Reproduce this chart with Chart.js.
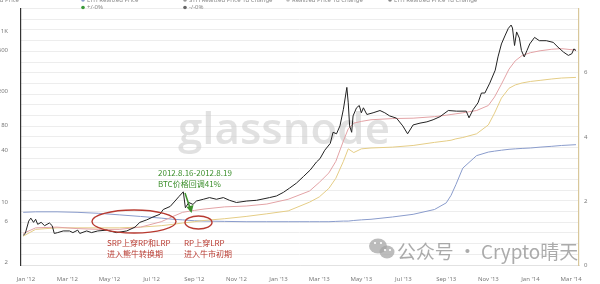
<!DOCTYPE html>
<html>
<head>
<meta charset="utf-8">
<script src="https://cdn.jsdelivr.net/npm/chart.js@4.4.1/dist/chart.umd.min.js"></script>
<style>
  html, body { margin: 0; padding: 0; background: #fff; }
  #wrap { width: 600px; height: 284px; position: relative; }
</style>
</head>
<body>
<div id="wrap"><canvas id="chart" width="600" height="284"></canvas></div>
<script>
// --- Data ---
const priceDates = [
  '2011-12-28','2011-12-31','2012-01-05','2012-01-08','2012-01-12','2012-01-15','2012-01-18','2012-01-23',
  '2012-01-28','2012-02-04','2012-02-08','2012-02-11','2012-02-16','2012-02-24','2012-03-04','2012-03-09',
  '2012-03-16','2012-03-19','2012-03-29','2012-04-05','2012-04-14','2012-04-27','2012-05-11','2012-05-26',
  '2012-06-07','2012-06-14','2012-06-24','2012-07-03','2012-07-13','2012-07-18','2012-07-28','2012-08-04',
  '2012-08-10','2012-08-16','2012-08-19','2012-08-24','2012-08-30','2012-09-04','2012-09-14','2012-09-23',
  '2012-10-03','2012-10-13','2012-10-22','2012-11-01','2012-11-16','2012-11-30','2012-12-19','2012-12-29',
  '2013-01-08','2013-01-17','2013-01-27','2013-02-06','2013-02-16','2013-02-25','2013-03-02','2013-03-09',
  '2013-03-17','2013-03-21','2013-03-26','2013-03-31','2013-04-05','2013-04-10','2013-04-12','2013-04-14',
  '2013-04-17','2013-04-19','2013-04-24','2013-04-28','2013-05-01','2013-05-04','2013-05-09','2013-05-18',
  '2013-05-28','2013-06-04','2013-06-11','2013-06-21','2013-06-30','2013-07-07','2013-07-15','2013-07-25',
  '2013-08-04','2013-08-13','2013-08-23','2013-09-04','2013-09-16','2013-09-30','2013-10-04','2013-10-10',
  '2013-10-17','2013-10-22','2013-10-27','2013-11-03','2013-11-11','2013-11-15','2013-11-20','2013-11-25',
  '2013-11-30','2013-12-04','2013-12-06','2013-12-09','2013-12-12','2013-12-16','2013-12-19','2013-12-23',
  '2013-12-27','2013-12-31','2014-01-07','2014-01-14','2014-01-24','2014-02-03','2014-02-10','2014-02-18',
  '2014-02-25','2014-03-02','2014-03-05','2014-03-08'
];
const priceValues = [
  4.1, 4.3, 6.0, 6.5, 5.8, 6.3, 5.5, 5.8,
  5.3, 5.7, 5.3, 4.3, 4.4, 4.6, 4.6, 4.4,
  4.7, 4.3, 4.6, 4.4, 4.6, 4.7, 4.4, 4.6,
  5.1, 5.8, 6.2, 6.7, 7.2, 8.2, 8.9, 10.3,
  11.7, 13.2, 8.6, 9.9, 9.4, 10.3, 10.8, 11.3,
  10.8, 11.3, 10.5, 9.9, 10.3, 10.5, 11.3, 11.8,
  13.0, 14.6, 16.7, 19.9, 23.8, 29.5, 32.2, 40.5,
  48.7, 65.7, 63, 78, 122, 220, 145, 78,
  65.6, 102, 127, 135, 111, 127, 106, 111,
  118, 111, 102, 96, 78, 63, 80, 84,
  87, 92, 100, 118, 116, 116, 97, 121,
  145, 189, 189, 246, 350, 500, 709, 880,
  1080, 1180, 1090, 680, 980, 830, 594, 500,
  594, 709, 846, 774, 774, 740, 650, 569,
  521, 545, 621, 594
];

const rpDates = [
  '2011-12-28','2012-01-15','2012-02-15','2012-03-15','2012-04-15','2012-05-15','2012-06-15','2012-07-15',
  '2012-08-01','2012-08-15','2012-09-01','2012-09-15','2012-10-15','2012-11-15','2012-12-15','2013-01-15',
  '2013-02-15','2013-03-01','2013-03-15','2013-03-25','2013-04-05','2013-04-12','2013-04-20','2013-05-01',
  '2013-05-15','2013-06-15','2013-07-15','2013-08-15','2013-09-01','2013-09-08','2013-09-15','2013-09-25',
  '2013-10-15','2013-11-01','2013-11-10','2013-11-20','2013-12-01','2013-12-10','2013-12-20','2014-01-01',
  '2014-01-15','2014-02-01','2014-02-15','2014-03-08'
];
const sthRealized = [
  4.3, 5.0, 5.1, 4.9, 4.8, 4.8, 5.1, 5.9,
  6.8, 7.6, 8.0, 8.3, 8.8, 9.0, 9.5, 10.8,
  13.5, 17, 22, 30, 52, 72, 84, 88,
  92, 95, 96, 100, 104, 106, 108, 111,
  118, 135, 170, 240, 360, 450, 520, 560,
  590, 615, 625, 600
];
const realized = [
  4.0, 4.8, 5.0, 5.0, 5.0, 5.0, 5.1, 5.3,
  5.5, 5.7, 5.9, 6.1, 6.4, 6.8, 7.3, 7.9,
  10.0, 11.5, 14.5, 19, 30, 42, 38, 42,
  43, 44, 46, 50, 52, 53, 55, 57,
  63, 80, 110, 165, 215, 235, 248, 258,
  266, 276, 283, 288
];
const lthRealized = [
  7.6, 7.7, 7.7, 7.6, 7.4, 7.1, 6.8, 6.5,
  6.3, 6.2, 6.05, 6.0, 5.95, 5.9, 5.9, 5.9,
  5.9, 5.9, 5.9, 5.95, 6.0, 6.0, 6.1, 6.2,
  6.3, 6.7, 7.2, 8.2, 9.8, 12, 16, 25,
  35, 38.5, 39.5, 40.5, 41.5, 42, 42.5, 43,
  44, 45, 46, 47
];

const tickDates = ['2012-01-01','2012-03-01','2012-05-01','2012-07-01','2012-09-01','2012-11-01','2013-01-01',
  '2013-03-01','2013-05-01','2013-07-01','2013-09-01','2013-11-01','2014-01-01','2014-03-01'];
const tickLabels = ["Jan '12","Mar '12","May '12","Jul '12","Sep '12","Nov '12","Jan '13",
  "Mar '13","May '13","Jul '13","Sep '13","Nov '13","Jan '14","Mar '14"];
const leftTicks = [2, 6, 10, 40, 80, 200, 600, 1000];
const leftTickLabels = ['2', '6', '10', '40', '80', '200', '600', '1K'];
const rightTickLabels = ['0', '2', '4', '6'];

const legendRow1 = ['Realized Price', 'LTH Realized Price', 'STH Realized Price 1d Change',
  'Realized Price 1d Change', 'LTH Realized Price 1d Change'];
const legendRow2 = ['+/-0%', '-/-0%'];

// --- helpers ---
const DAY0 = Date.UTC(2012, 0, 1);
function toDay(s) {
  const [y, m, d] = s.split('-').map(Number);
  return (Date.UTC(y, m - 1, d) - DAY0) / 86400000;
}
function pts(dates, values) {
  return dates.map((d, i) => ({ x: toDay(d), y: values[i] }));
}

const tickFont = { family: 'Noto Sans', size: 6 };
const tickColor = '#7a7a7a';

// --- decorations: watermarks, legend strip, hand-drawn annotations ---
const decor = {
  id: 'decor',
  beforeDatasetsDraw(chart) {
    const c = chart.ctx;
    c.save();
    c.font = '600 40px "Open Sans"';
    const w = c.measureText('glassnode').width;
    const size = 40 * 212 / w;
    c.font = `600 ${size}px "Open Sans"`;
    c.fillStyle = 'rgba(205,205,205,0.6)';
    c.textBaseline = 'alphabetic';
    c.fillText('glassnode', 178, 144);
    c.restore();
  },
  afterDraw(chart) {
    const c = chart.ctx;
    c.save();

    // legend strip (cut off at the top like the screenshot)
    c.font = '6px "Noto Sans"';
    c.textBaseline = 'middle';
    const row1x = [-24, 83, 185, 288, 390];
    const row1c = ['#e8a5a5', '#8ea0cf', '#999', '#bbb', '#888'];
    legendRow1.forEach((t, i) => {
      c.fillStyle = row1c[i];
      c.beginPath(); c.arc(row1x[i], 0, 1.8, 0, Math.PI * 2); c.fill();
      c.fillStyle = '#888';
      c.fillText(t, row1x[i] + 4, 0);
    });
    const row2x = [83, 185];
    const row2c = ['#3a9a3a', '#666'];
    legendRow2.forEach((t, i) => {
      c.fillStyle = row2c[i];
      c.beginPath(); c.arc(row2x[i], 7.5, 1.8, 0, Math.PI * 2); c.fill();
      c.fillStyle = '#888';
      c.fillText(t, row2x[i] + 4, 7.5);
    });

    // red ellipses and notes
    const red = '#b83a30';
    c.strokeStyle = red;
    c.lineWidth = 1.4;
    c.beginPath(); c.ellipse(134, 221.5, 42, 11.5, 0, 0, Math.PI * 2); c.stroke();
    c.beginPath(); c.ellipse(198.5, 222.5, 13.5, 6.5, 0, 0, Math.PI * 2); c.stroke();
    c.fillStyle = red;
    c.font = '8px "Noto Sans CJK SC"';
    c.textBaseline = 'alphabetic';
    c.fillText('SRP上穿RP和LRP', 107, 246);
    c.fillText('进入熊牛转换期', 107, 257);
    c.fillText('RP上穿LRP', 184, 246);
    c.fillText('进入牛市初期', 184, 257);

    // green note and arrow
    const green = '#3c8f2c';
    c.fillStyle = green;
    c.fillText('2012.8.16-2012.8.19', 158, 176);
    c.fillText('BTC价格回调41%', 158, 187);
    c.strokeStyle = green;
    c.lineWidth = 1.5;
    c.beginPath(); c.moveTo(185, 193); c.lineTo(190, 208); c.stroke();
    c.beginPath(); c.moveTo(186.5, 207); c.lineTo(193.5, 205); c.lineTo(191.5, 213); c.closePath(); c.fill();

    // bottom-right watermark
    c.fillStyle = 'rgba(165,165,165,0.75)';
    c.beginPath(); c.ellipse(378, 246, 9, 7.6, 0, 0, Math.PI * 2); c.fill();
    c.beginPath(); c.ellipse(387, 252, 7.5, 6.4, 0, 0, Math.PI * 2); c.fill();
    c.fillStyle = '#fff';
    [[375, 243], [381, 243], [385, 250], [390, 250]].forEach(([x, y]) => {
      c.beginPath(); c.arc(x, y, 1.1, 0, Math.PI * 2); c.fill();
    });
    const mark = '公众号 · Crypto晴天';
    c.font = '20px "Noto Sans CJK SC"';
    const mw = c.measureText(mark).width;
    c.font = `${20 * 181 / mw}px "Noto Sans CJK SC"`;
    c.fillStyle = 'rgba(150,150,150,0.8)';
    c.textAlign = 'right';
    c.fillText(mark, 578, 259);
    c.restore();
  }
};

const ctx = document.getElementById('chart').getContext('2d');
new Chart(ctx, {
  type: 'line',
  data: {
    datasets: [
      { label: 'Price', data: pts(priceDates, priceValues), borderColor: '#222', borderWidth: 1, yAxisID: 'y', order: 0 },
      { label: 'STH Realized Price', data: pts(rpDates, sthRealized), borderColor: '#e3a3a6', borderWidth: 1, yAxisID: 'y', order: 1 },
      { label: 'Realized Price', data: pts(rpDates, realized), borderColor: '#e5cd86', borderWidth: 1, yAxisID: 'y', order: 2 },
      { label: 'LTH Realized Price', data: pts(rpDates, lthRealized), borderColor: '#8a9ccc', borderWidth: 1, yAxisID: 'y', order: 3 }
    ]
  },
  options: {
    responsive: false,
    animation: false,
    events: [],
    layout: { padding: { top: 4, left: 0, right: 0, bottom: 0 } },
    elements: { point: { radius: 0 }, line: { tension: 0 } },
    plugins: { legend: { display: false }, tooltip: { enabled: false } },
    scales: {
      x: {
        type: 'linear',
        min: -7.2,
        max: 801.4,
        grid: { display: false },
        border: { color: '#e2e2e2', width: 1 },
        afterBuildTicks: s => { s.ticks = tickDates.map(d => ({ value: toDay(d) })); },
        afterFit: s => { s.height = 19; },
        ticks: {
          autoSkip: false, maxRotation: 0, padding: 3,
          font: tickFont, color: tickColor,
          callback: (v, i) => tickLabels[i]
        }
      },
      y: {
        type: 'logarithmic',
        position: 'left',
        min: 1.838,
        max: 1838,
        grid: { display: false },
        border: { color: '#333', width: 1.2 },
        afterBuildTicks: s => { s.ticks = leftTicks.map(v => ({ value: v })); },
        afterFit: s => { s.width = 21; },
        ticks: {
          autoSkip: false, padding: 5,
          font: tickFont, color: tickColor,
          callback: (v, i) => leftTickLabels[i]
        }
      },
      y2: {
        type: 'linear',
        position: 'right',
        min: 0,
        max: 8,
        grid: { color: '#ededed', lineWidth: 1, drawTicks: false },
        border: { color: '#d8c79a', width: 1.2 },
        afterBuildTicks: s => {
          const t = [];
          for (let k = 0; k <= 24; k++) t.push({ value: k / 3 });
          s.ticks = t;
        },
        afterFit: s => { s.width = 21; },
        ticks: {
          autoSkip: false, padding: 5,
          font: tickFont, color: tickColor,
          callback: (v, i) => (i % 6 === 0 && i < 24 ? rightTickLabels[i / 6] : '')
        }
      }
    }
  },
  plugins: [decor]
});
</script>
</body>
</html>
